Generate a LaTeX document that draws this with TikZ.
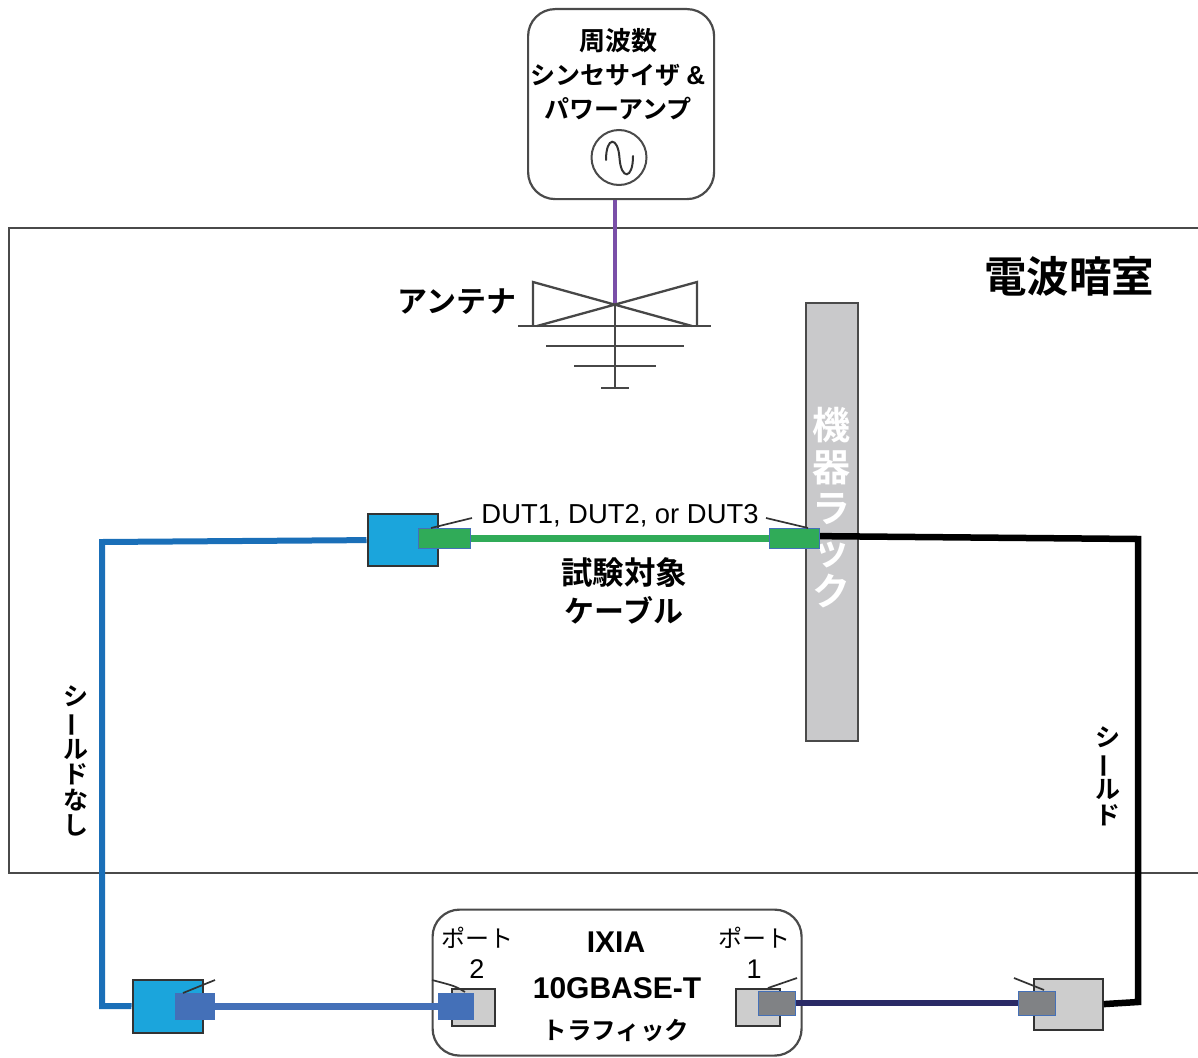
\documentclass[tikz,border=0pt]{standalone}
\usepackage{fontspec}
\setmainfont{Liberation Sans}
\newfontfamily\lb{Liberation Sans Bold}
\newfontfamily\jb{Noto Sans CJK JP Bold}
\newfontfamily\jr{Noto Sans CJK JP}
\newcommand{\vbar}{\rotatebox[origin=c]{90}{ー}}
\definecolor{edge}{HTML}{4A4A4A}
\definecolor{dark}{HTML}{333333}
\definecolor{lblue}{HTML}{1BA5DC}
\definecolor{mblue}{HTML}{4470B8}
\definecolor{cable}{HTML}{1A6FB8}
\definecolor{grn}{HTML}{30AB58}
\definecolor{gry}{HTML}{CDCDCD}
\definecolor{dgry}{HTML}{808285}
\definecolor{navy}{HTML}{2A2A66}
\definecolor{purp}{HTML}{7A4FA8}
\definecolor{rack}{HTML}{C9C9CB}
\tikzset{
 rbox/.style={draw=edge,line width=2.2pt,fill=white,rounded corners=27pt,inner sep=0pt},
 ant/.style={draw=dark!90,line width=2.3pt},
 plugbody/.style={draw=dark,line width=2.2pt,inner sep=0pt},
 plug/.style={draw=mblue,line width=1.4pt,inner sep=0pt},
 lever/.style={draw=dark,line width=1.7pt},
 cb/.style={line width=6pt,line join=miter},
 jt/.style={font=\jb,inner sep=0pt,align=center},
 lt/.style={font=\jr,inner sep=0pt,align=center},
}
\begin{document}
\begin{tikzpicture}[x=1pt,y=-1pt]
\useasboundingbox (0,0) rectangle (1198,1057);
% chamber
\node[draw=edge,line width=2.4pt,minimum width=1200pt,minimum height=645pt,anchor=north west,inner sep=0pt] (chamber) at (8,227) {};
% synth box
\node[rbox,minimum width=186pt,minimum height=190pt,anchor=north west] (synth) at (527,8) {};
\node[jt,font=\jb\fontsize{25}{34}\selectfont] (synthlabel) at (618,74) {{\fontsize{26}{34}\selectfont 周波数}\\シンセサイザ {\lb\fontsize{26}{34}\selectfont\&}\\パワーアンプ};
\node[circle,draw=edge,line width=2pt,minimum size=55pt,inner sep=0pt] (osc) at (619,157.5) {};
\draw[dark,line width=2pt,line cap=round] (606,160) .. controls (606,136) and (618,136) .. (619.5,158) .. controls (621,180) and (633,180) .. (633,156);
% antenna
\coordinate (feed) at (615,304);
\coordinate (tl) at (533,282);
\coordinate (tr) at (697,282);
\coordinate (bl) at (533,326);
\coordinate (br) at (697,326);
\coordinate (xl) at (537,326);
\coordinate (xr) at (692,326);
\coordinate (gnd) at (615,388);
\draw[purp,line width=3.2pt] (synth.south -| feed) -- (feed);
\draw[ant] (bl) -- (tl) -- (xr) (br) -- (tr) -- (xl);
\draw[ant] (feed) -- (gnd);
\draw[ant] (518,326) -- (711,326);
\draw[ant] (546,346) -- (684,346);
\draw[ant] (574,366) -- (656,366);
\draw[ant] (601,388) -- (629,388);
\node[jt,font=\jb\fontsize{30}{34}\selectfont] (antlabel) at (457,302) {アンテナ};
\node[jt,font=\jb\fontsize{42.5}{46}\selectfont] (chamberlabel) at (1069,276) {電波暗室};
% rack
\node[draw=edge,line width=2.6pt,fill=rack,minimum width=52pt,minimum height=438pt,anchor=north west,inner sep=0pt] (rack) at (804.5,301.5) {};
\node[jt,text=white,font=\jb\fontsize{38}{41.5}\selectfont] (racklabel) at (831,508) {機\\器\\ラ\\ッ\\ク};
% bodies
\node[plugbody,fill=lblue,minimum width=70pt,minimum height=52pt,anchor=north west] (a1) at (366.5,513) {};
\node[plugbody,fill=lblue,minimum width=70pt,minimum height=53pt,anchor=north west] (a2) at (131.5,978.5) {};
\node[plugbody,fill=gry,minimum width=69pt,minimum height=51pt,anchor=north west] (b2) at (1032.5,977.5) {};
\node[rbox,minimum width=369pt,minimum height=146pt,anchor=north west] (ixia) at (431.5,908.5) {};
\node[plugbody,fill=gry,minimum width=43pt,minimum height=37pt,anchor=north west] (p2) at (450.5,987.5) {};
\node[plugbody,fill=gry,minimum width=44pt,minimum height=37pt,anchor=north west] (p1) at (734.5,987.5) {};
% cables
\draw[cable,cb] (a1.west) -- (102,542) -- (102,1006) -- (a2.west);
\draw[black,line width=6.5pt,line join=miter] (805,536) -- (1138,539) -- (1138,1002) -- (b2.east);
% plugs
\node[plug,fill=grn,minimum width=52pt,minimum height=20pt,anchor=north west] (pg1) at (417.5,528) {};
\node[plug,fill=grn,minimum width=50pt,minimum height=20pt,anchor=north west] (pg2) at (768.5,528) {};
\node[plug,fill=mblue,minimum width=39pt,minimum height=26pt,anchor=north west] (pb1) at (174.5,992.5) {};
\node[plug,fill=mblue,minimum width=35pt,minimum height=26pt,anchor=north west] (pb2) at (437.5,992.5) {};
\node[plug,fill=dgry,minimum width=37pt,minimum height=24pt,anchor=north west] (pd1) at (757.5,990.5) {};
\node[plug,fill=dgry,minimum width=37pt,minimum height=24pt,anchor=north west] (pd2) at (1017.5,990.5) {};
\draw[grn,line width=7pt] (pg1.east) -- (pg2.west);
\draw[mblue,line width=7pt] (pb1.east) -- (pb2.west);
\draw[navy,line width=6pt] (pd1.east) -- (pd2.west);
% levers
\draw[lever] (431,528) -- (472,518);
\draw[lever] (808,528) -- (766,518);
\draw[lever] (183,993) -- (215,980);
\draw[lever] (465,992) .. controls (455,986) .. (432,980);
\draw[lever] (768,988) -- (797,978);
\draw[lever] (1044,990) -- (1014,978);
% labels
\node[inner sep=0pt,font=\fontsize{27.4}{30}\selectfont] (dut) at (620,516) {DUT1, DUT2, or DUT3};
\node[jt,font=\jb\fontsize{30}{38}\selectfont] (cablelabel) at (624,591) {{\fontsize{31.5}{38}\selectfont 試験対象}\\ケーブル};
\node[inner sep=0pt,font=\lb\fontsize{30}{34}\selectfont] (ixname) at (616,942) {IXIA};
\node[inner sep=0pt,font=\lb\fontsize{30}{34}\selectfont] (ixrate) at (617,988) {10GBASE-T};
\node[jt,font=\jb\fontsize{24.5}{30}\selectfont] (ixtraffic) at (616,1030) {トラフィック};
\node[lt,font=\jr\fontsize{24}{31}\selectfont] (port2) at (477,953) {ポート\\{\rmfamily\fontsize{27}{31}\selectfont 2}};
\node[lt,font=\jr\fontsize{24}{31}\selectfont] (port1) at (754,953) {ポート\\{\rmfamily\fontsize{27}{31}\selectfont 1}};
\node[jt,font=\jb\fontsize{25}{25.5}\selectfont] (unsh) at (76,761) {シ\\\vbar\\ル\\ド\\な\\し};
\node[jt,font=\jb\fontsize{25}{25.5}\selectfont] (sh) at (1108,776) {シ\\\vbar\\ル\\ド};
\end{tikzpicture}
\end{document}
